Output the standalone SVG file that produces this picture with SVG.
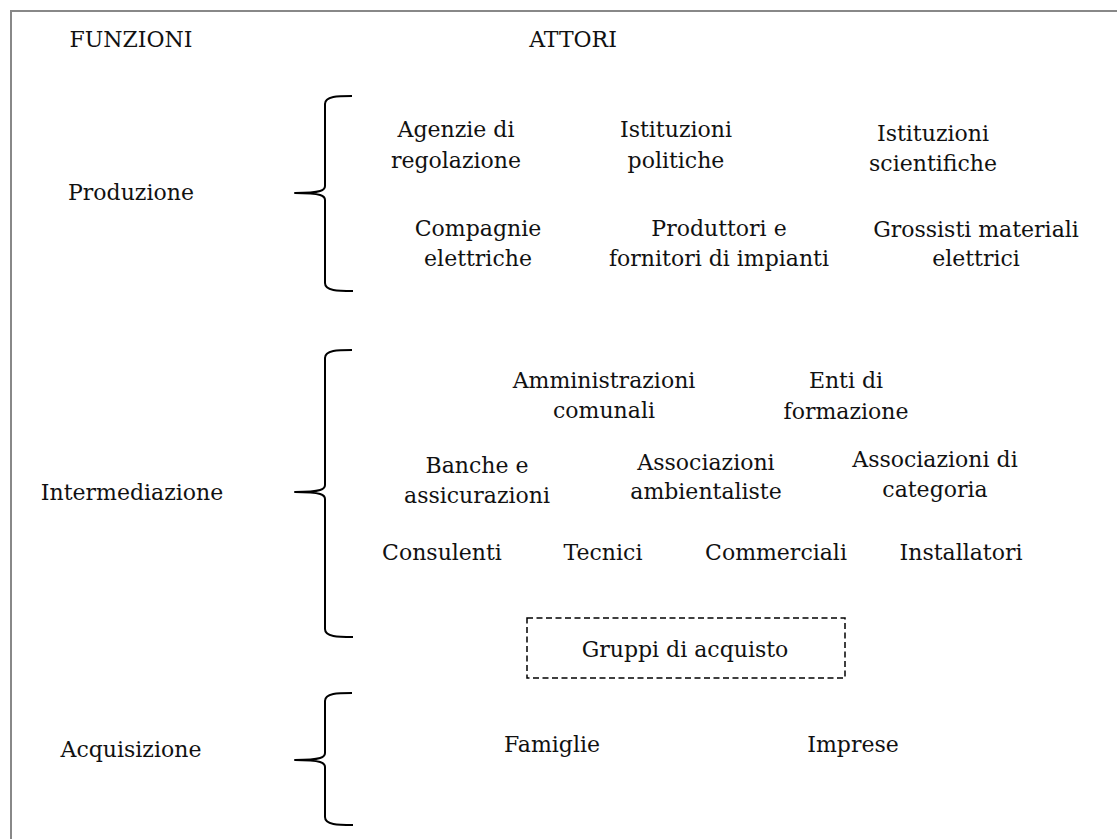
<svg xmlns="http://www.w3.org/2000/svg" width="1117" height="839" viewBox="0 0 1117 839">
  <style>
    text { font-family: "DejaVu Serif", "Liberation Serif", serif; font-size: 22px; fill: #111; text-anchor: middle; }
    .brace { fill: none; stroke: #000; stroke-width: 2; stroke-linejoin: round; }
    .frame { fill: none; stroke: #888; stroke-width: 2; }
    .dash { fill: none; stroke: #000; stroke-width: 1.5; stroke-dasharray: 6 3.5; }
  </style>
  <rect x="0" y="0" width="1117" height="839" fill="#fff"/>

  <!-- outer frame (top and left edges) -->
  <path class="frame" d="M11,839 L11,11 L1117,11"/>

  <!-- column headings -->
  <g id="headings">
    <text x="131" y="47">FUNZIONI</text>
    <text x="573" y="47">ATTORI</text>
  </g>

  <!-- function labels -->
  <g id="fn-produzione"><text x="131" y="200">Produzione</text></g>
  <g id="fn-intermediazione"><text x="132" y="500">Intermediazione</text></g>
  <g id="fn-acquisizione"><text x="131" y="757">Acquisizione</text></g>

  <!-- braces grouping actors under each function -->
  <g id="connectors">
    <path class="brace" d="M352,96 C338,96 325,96 325,104 L325,186 C325,190 322,193 295,193 C322,193 325,196 325,200 L325,283 C325,291 338,291 353,291"/>
    <path class="brace" d="M352,350 C338,350 325,350 325,358 L325,485 C325,489 322,492 295,492 C322,492 325,495 325,499 L325,629 C325,637 338,637 353,637"/>
    <path class="brace" d="M352,693 C338,693 325,693 325,701 L325,753 C325,757 322,760 295,760 C322,760 325,763 325,767 L325,817 C325,825 338,825 353,825"/>
  </g>

  <!-- Produzione actors -->
  <g id="agenzie"><text x="456" y="137">Agenzie di</text><text x="456" y="168">regolazione</text></g>
  <g id="ist-politiche"><text x="676" y="137">Istituzioni</text><text x="676" y="168">politiche</text></g>
  <g id="ist-scientifiche"><text x="933" y="141">Istituzioni</text><text x="933" y="171">scientifiche</text></g>
  <g id="compagnie"><text x="478" y="236">Compagnie</text><text x="478" y="266">elettriche</text></g>
  <g id="produttori"><text x="719" y="236">Produttori e</text><text x="719" y="266">fornitori di impianti</text></g>
  <g id="grossisti"><text x="976" y="237">Grossisti materiali</text><text x="976" y="266">elettrici</text></g>

  <!-- Intermediazione actors -->
  <g id="amministrazioni"><text x="604" y="388">Amministrazioni</text><text x="604" y="418">comunali</text></g>
  <g id="enti"><text x="846" y="388">Enti di</text><text x="846" y="419">formazione</text></g>
  <g id="banche"><text x="477" y="473">Banche e</text><text x="477" y="503">assicurazioni</text></g>
  <g id="ambientaliste"><text x="706" y="470">Associazioni</text><text x="706" y="499">ambientaliste</text></g>
  <g id="categoria"><text x="935" y="467">Associazioni di</text><text x="935" y="497">categoria</text></g>
  <g id="consulenti"><text x="442" y="560">Consulenti</text></g>
  <g id="tecnici"><text x="603" y="560">Tecnici</text></g>
  <g id="commerciali"><text x="776" y="560">Commerciali</text></g>
  <g id="installatori"><text x="961" y="560">Installatori</text></g>

  <g id="gruppi">
    <rect class="dash" x="527" y="618" width="318" height="60"/>
    <text x="685" y="657">Gruppi di acquisto</text>
  </g>

  <!-- Acquisizione actors -->
  <g id="famiglie"><text x="552" y="752">Famiglie</text></g>
  <g id="imprese"><text x="853" y="752">Imprese</text></g>
</svg>
